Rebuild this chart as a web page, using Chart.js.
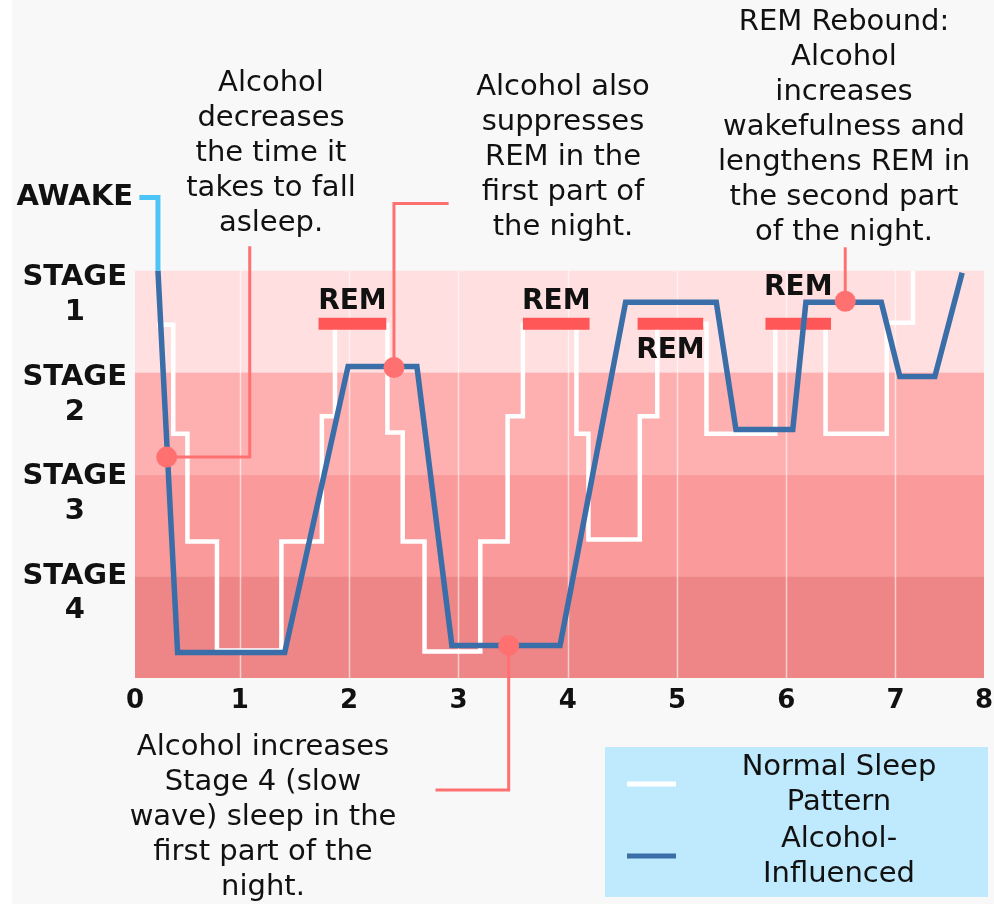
<!DOCTYPE html>
<html>
<head>
<meta charset="utf-8">
<title>Alcohol and the sleep cycle</title>
<script src="https://cdn.jsdelivr.net/npm/chart.js@4.4.0/dist/chart.umd.min.js"></script>
<style>
  html, body { margin: 0; padding: 0; background: #fff; }
  canvas { display: block; }
</style>
</head>
<body>
<canvas id="sleep" width="994" height="904"></canvas>
<script>
// ============================================================
// Sleep stages through the night — normal vs alcohol-influenced
// x = hours asleep, y = depth (4 = top of Stage 1, 0 = bottom of Stage 4)
// ============================================================

const normalHours = [0.24, 0.39, 0.39, 0.52, 0.52, 0.79, 0.79, 1.38, 1.38, 1.75, 1.75, 1.87, 1.87, 2.35, 2.35,
                     2.49, 2.49, 2.69, 2.69, 3.20, 3.20, 3.45, 3.45, 3.59, 3.59, 4.08, 4.08, 4.19, 4.19, 4.66,
                     4.66, 4.82, 4.82, 5.27, 5.27, 5.90, 5.90, 6.36, 6.36, 6.92, 6.92, 7.16, 7.16];
const normalDepth = [3.47, 3.47, 2.40, 2.40, 1.34, 1.34, 0.27, 0.27, 1.34, 1.34, 2.57, 2.57, 3.47, 3.47, 2.41,
                     2.41, 1.34, 1.34, 0.26, 0.26, 1.34, 1.34, 2.57, 2.57, 3.47, 3.47, 2.40, 2.40, 1.36, 1.36,
                     2.57, 2.57, 3.48, 3.48, 2.40, 2.40, 3.48, 3.48, 2.40, 2.40, 3.49, 3.49, 4.00];

const alcoholHours = [0.25, 0.43, 1.41, 1.99, 2.62, 2.94, 3.93, 4.53, 5.36, 5.54, 6.06, 6.18, 6.87, 7.04, 7.36, 7.61];
const alcoholDepth = [4.00, 0.25, 0.25, 3.06, 3.06, 0.32, 0.32, 3.69, 3.69, 2.44, 2.44, 3.69, 3.69, 2.96, 2.96, 3.98];

const awakeHours = [0.08, 0.25, 0.25];
const awakeDepth = [4.72, 4.72, 4.00];

const remStart = [1.72, 3.59, 4.64, 5.81];
const remEnd   = [2.34, 4.20, 5.24, 6.41];
const remDepth = 3.48;

const xTickValues = [0.04, 1, 2, 3, 4, 5, 6, 7, 7.81];
const yTickValues = [0.83, 1.81, 2.78, 3.76, 4.72];
const yTickLabels = [['STAGE', '4'], ['STAGE', '3'], ['STAGE', '2'], ['STAGE', '1'], 'AWAKE'];

const X_MIN = 0.04, X_MAX = 7.81, Y_MAX = 6.6;

// ── Styling ─────────────────────────────────────────────────
const BAND_COLORS = ['#ffdfe0', '#feafb0', '#fa9a9b', '#ee8687'];   // Stage 1 .. Stage 4
const LEADER = '#ff7171';
const INK = '#111111';
const TEXT_FONT = '29px "DejaVu Sans"';
const BOLD_FONT = 'bold 28px "DejaVu Sans"';

// annotation blocks: text in page pixels, leader lines in data units
const notes = [
  { lines: ['Alcohol', 'decreases', 'the time it', 'takes to fall', 'asleep.'], cx: 271, top: 83 },
  { lines: ['Alcohol also', 'suppresses', 'REM in the', 'first part of', 'the night.'], cx: 563, top: 87 },
  { lines: ['REM Rebound:', 'Alcohol', 'increases', 'wakefulness and', 'lengthens REM in', 'the second part', 'of the night.'], cx: 844, top: 22 },
  { lines: ['Alcohol increases', 'Stage 4 (slow', 'wave) sleep in the', 'first part of the', 'night.'], cx: 263, top: 747 },
];
const leaders = [
  [[0.33, 2.17], [1.09, 2.17], [1.09, 4.24]],
  [[2.41, 3.05], [2.41, 4.66], [2.91, 4.66]],
  [[6.54, 3.70], [6.54, 4.23]],
  [[3.46, 0.32], [3.46, -1.10], [2.79, -1.10]],
];
const remLabelShift = [-22, -22, 27, -36];
const legendRows = [
  { label: 'Normal Sleep Pattern', lines: ['Normal Sleep', 'Pattern'], y: 784 },
  { label: 'Alcohol-Influenced', lines: ['Alcohol-', 'Influenced'], y: 856 },
];

const toPoints = (xs, ys) => xs.map((x, i) => ({ x, y: ys[i] }));

function remPoints() {
  const pts = [];
  remStart.forEach((s, i) => {
    pts.push({ x: s, y: remDepth }, { x: remEnd[i], y: remDepth }, { x: remEnd[i], y: null });
  });
  return pts;
}

function textBlock(ctx, lines, cx, top, step) {
  lines.forEach((t, i) => ctx.fillText(t, cx, top + i * step));
}

const sleepDecor = {
  id: 'sleepDecor',

  beforeDraw(chart) {
    const { ctx, chartArea: a, scales: { x, y } } = chart;
    ctx.save();
    ctx.fillStyle = '#f8f8f8';
    ctx.fillRect(12, 0, chart.width - 12, chart.height);

    // stage bands
    BAND_COLORS.forEach((c, i) => {
      const top = y.getPixelForValue(4 - i), bot = y.getPixelForValue(3 - i);
      ctx.fillStyle = c;
      ctx.fillRect(a.left, top, a.right - a.left, bot - top);
    });

    // hour grid, only inside the bands
    ctx.strokeStyle = 'rgba(255,255,255,0.6)';
    ctx.lineWidth = 1.5;
    for (let h = 1; h <= 7; h++) {
      const px = Math.round(x.getPixelForValue(h)) + 0.5;
      ctx.beginPath();
      ctx.moveTo(px, y.getPixelForValue(4));
      ctx.lineTo(px, y.getPixelForValue(0));
      ctx.stroke();
    }
    ctx.restore();
  },

  afterDatasetsDraw(chart) {
    const { ctx, scales: { x, y } } = chart;
    ctx.save();
    ctx.textAlign = 'center';
    ctx.textBaseline = 'middle';

    // REM labels
    ctx.fillStyle = INK;
    ctx.font = BOLD_FONT;
    remStart.forEach((s, i) => {
      const cx = x.getPixelForValue((s + remEnd[i]) / 2);
      ctx.fillText('REM', cx, y.getPixelForValue(remDepth) + remLabelShift[i]);
    });

    // leader lines + dots
    ctx.strokeStyle = LEADER;
    ctx.fillStyle = LEADER;
    ctx.lineWidth = 3;
    leaders.forEach(pts => {
      ctx.beginPath();
      pts.forEach(([hx, dy], i) => {
        const px = x.getPixelForValue(hx), py = y.getPixelForValue(dy);
        i ? ctx.lineTo(px, py) : ctx.moveTo(px, py);
      });
      ctx.stroke();
      ctx.beginPath();
      ctx.arc(x.getPixelForValue(pts[0][0]), y.getPixelForValue(pts[0][1]), 10.5, 0, Math.PI * 2);
      ctx.fill();
    });

    // annotation text
    ctx.fillStyle = INK;
    ctx.font = TEXT_FONT;
    notes.forEach(n => textBlock(ctx, n.lines, n.cx, n.top, 35));

    // legend box
    ctx.fillStyle = '#bfe9fc';
    ctx.fillRect(605, 747, 383, 150);
    legendRows.forEach(row => {
      const ds = chart.data.datasets.find(d => d.label === row.label);
      ctx.strokeStyle = ds.borderColor;
      ctx.lineWidth = 5;
      ctx.beginPath();
      ctx.moveTo(627, row.y);
      ctx.lineTo(676, row.y);
      ctx.stroke();
      ctx.fillStyle = INK;
      ctx.font = TEXT_FONT;
      textBlock(ctx, row.lines, 839, row.y - 17, 35);
    });
    ctx.restore();
  }
};

new Chart(document.getElementById('sleep'), {
  type: 'line',
  data: {
    // lower `order` is painted on top
    datasets: [
      { label: 'Normal Sleep Pattern', order: 3, data: toPoints(normalHours, normalDepth), borderColor: '#ffffff', borderWidth: 4.5 },
      { label: 'REM', order: 2, data: remPoints(), borderColor: '#ff5757', borderWidth: 12, borderCapStyle: 'butt', spanGaps: false },
      { label: 'Alcohol-Influenced', order: 1, data: toPoints(alcoholHours, alcoholDepth), borderColor: '#3a6ea8', borderWidth: 5.5 },
      { label: 'Awake', order: 0, data: toPoints(awakeHours, awakeDepth), borderColor: '#4cc4f6', borderWidth: 5 },
    ]
  },
  options: {
    responsive: false,
    animation: false,
    devicePixelRatio: 1,
    elements: {
      point: { radius: 0, hoverRadius: 0 },
      line: { tension: 0, fill: false, borderJoinStyle: 'miter' }
    },
    layout: { padding: { left: 5, right: 10, top: 6, bottom: 186 } },
    plugins: { legend: { display: false }, tooltip: { enabled: false } },
    scales: {
      x: {
        type: 'linear', min: X_MIN, max: X_MAX,
        afterBuildTicks: s => { s.ticks = xTickValues.map(v => ({ value: v })); },
        afterFit: s => { s.height = 40; s.paddingLeft = 0; s.paddingRight = 0; },
        grid: { display: false, drawTicks: false }, border: { display: false },
        ticks: {
          color: INK, padding: 8, maxRotation: 0, autoSkip: false,
          font: { family: 'DejaVu Sans', weight: 'bold', size: 26 },
          callback: v => String(Math.round(v))
        }
      },
      y: {
        type: 'linear', min: 0, max: Y_MAX,
        afterBuildTicks: s => { s.ticks = yTickValues.map(v => ({ value: v })); },
        afterFit: s => { s.width = 130; s.paddingTop = 0; s.paddingBottom = 0; },
        grid: { display: false, drawTicks: false }, border: { display: false },
        ticks: {
          color: INK, padding: 2, autoSkip: false, crossAlign: 'center',
          font: { family: 'DejaVu Sans', weight: 'bold', size: 29, lineHeight: 1.2 },
          callback: (v, i) => yTickLabels[i]
        }
      }
    }
  },
  plugins: [sleepDecor]
});
</script>
</body>
</html>
